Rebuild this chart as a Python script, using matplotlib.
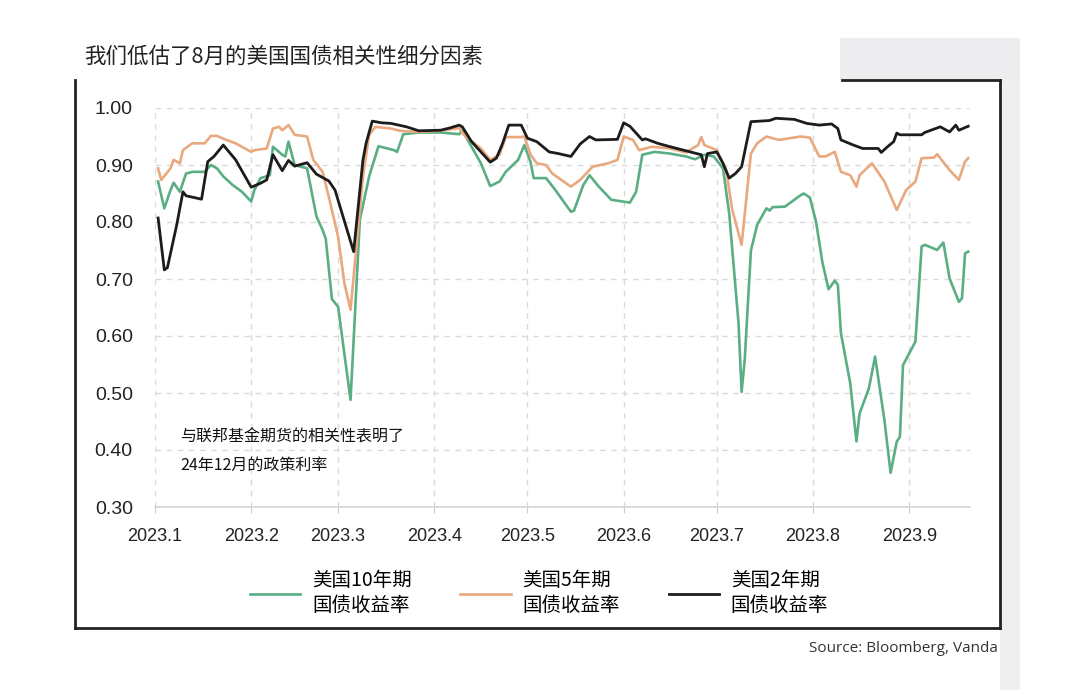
import pandas as pd
import matplotlib
matplotlib.use("Agg")
import matplotlib.pyplot as plt
from matplotlib.patches import Rectangle
from matplotlib.lines import Line2D

plt.rcParams['font.family'] = ['Noto Sans CJK SC', 'DejaVu Sans']

# ---- data ----
dates_10y = ['2023-01-02', '2023-01-04', '2023-01-06', '2023-01-07', '2023-01-09', '2023-01-11', '2023-01-13',
             '2023-01-17', '2023-01-19', '2023-01-21', '2023-01-23', '2023-01-26', '2023-01-29',
             '2023-02-01', '2023-02-02', '2023-02-04', '2023-02-07', '2023-02-08', '2023-02-11', '2023-02-12',
             '2023-02-13', '2023-02-15', '2023-02-19', '2023-02-22', '2023-02-24', '2023-02-25', '2023-02-27',
             '2023-03-01', '2023-03-05', '2023-03-08', '2023-03-11', '2023-03-14', '2023-03-19', '2023-03-20',
             '2023-03-22', '2023-03-27',
             '2023-04-03', '2023-04-09', '2023-04-10', '2023-04-13', '2023-04-16', '2023-04-19', '2023-04-22',
             '2023-04-24', '2023-04-28', '2023-04-30',
             '2023-05-02', '2023-05-03', '2023-05-07', '2023-05-10', '2023-05-15', '2023-05-16', '2023-05-19',
             '2023-05-21', '2023-05-24', '2023-05-28',
             '2023-06-03', '2023-06-05', '2023-06-07', '2023-06-11', '2023-06-16', '2023-06-21', '2023-06-24',
             '2023-06-27', '2023-06-30',
             '2023-07-03', '2023-07-05', '2023-07-06', '2023-07-08', '2023-07-09', '2023-07-10', '2023-07-12',
             '2023-07-14', '2023-07-17', '2023-07-18', '2023-07-19', '2023-07-23', '2023-07-26', '2023-07-28',
             '2023-07-29', '2023-07-31',
             '2023-08-02', '2023-08-04', '2023-08-06', '2023-08-08', '2023-08-09', '2023-08-10', '2023-08-13',
             '2023-08-15', '2023-08-16', '2023-08-19', '2023-08-21', '2023-08-24', '2023-08-26', '2023-08-28',
             '2023-08-29', '2023-08-30',
             '2023-09-03', '2023-09-05', '2023-09-06', '2023-09-10', '2023-09-12', '2023-09-14', '2023-09-17',
             '2023-09-18', '2023-09-19', '2023-09-20']
corr_10y = [0.871, 0.824, 0.856, 0.869, 0.853, 0.885, 0.888, 0.888, 0.90, 0.894, 0.88, 0.865, 0.853,
            0.836, 0.856, 0.877, 0.882, 0.932, 0.918, 0.915, 0.941, 0.90, 0.894, 0.81, 0.786, 0.771, 0.665,
            0.651, 0.488, 0.804, 0.88, 0.933, 0.926, 0.923, 0.954, 0.957,
            0.957, 0.954, 0.961, 0.932, 0.903, 0.863, 0.871, 0.888, 0.909, 0.935,
            0.905, 0.877, 0.877, 0.856, 0.818, 0.82, 0.865, 0.882, 0.862, 0.839,
            0.834, 0.853, 0.918, 0.923, 0.92, 0.915, 0.91, 0.918, 0.915,
            0.894, 0.815, 0.751, 0.623, 0.502, 0.558, 0.75, 0.795, 0.824, 0.82, 0.826, 0.827, 0.839, 0.847,
            0.85, 0.843,
            0.80, 0.73, 0.682, 0.697, 0.69, 0.605, 0.517, 0.415, 0.464, 0.508, 0.564, 0.453, 0.36, 0.415,
            0.423, 0.549,
            0.59, 0.757, 0.76, 0.751, 0.764, 0.701, 0.66, 0.666, 0.745, 0.748]

dates_5y = ['2023-01-02', '2023-01-03', '2023-01-06', '2023-01-07', '2023-01-09', '2023-01-10', '2023-01-13',
            '2023-01-17', '2023-01-19', '2023-01-21', '2023-01-24', '2023-01-27',
            '2023-02-01', '2023-02-02', '2023-02-06', '2023-02-08', '2023-02-10', '2023-02-11', '2023-02-13',
            '2023-02-15', '2023-02-19', '2023-02-21', '2023-02-24', '2023-02-26',
            '2023-03-01', '2023-03-03', '2023-03-05', '2023-03-09', '2023-03-11', '2023-03-13', '2023-03-18',
            '2023-03-21', '2023-03-26',
            '2023-04-03', '2023-04-09', '2023-04-11', '2023-04-16', '2023-04-19', '2023-04-22', '2023-04-24',
            '2023-04-29', '2023-04-30',
            '2023-05-02', '2023-05-04', '2023-05-07', '2023-05-09', '2023-05-15', '2023-05-18', '2023-05-22',
            '2023-05-27', '2023-05-30',
            '2023-06-01', '2023-06-04', '2023-06-06', '2023-06-10', '2023-06-16', '2023-06-21', '2023-06-25',
            '2023-06-26', '2023-06-27',
            '2023-07-01', '2023-07-03', '2023-07-04', '2023-07-06', '2023-07-09', '2023-07-12', '2023-07-14',
            '2023-07-17', '2023-07-21', '2023-07-28', '2023-07-31',
            '2023-08-03', '2023-08-05', '2023-08-08', '2023-08-10', '2023-08-13', '2023-08-15', '2023-08-16',
            '2023-08-20', '2023-08-24', '2023-08-28', '2023-08-31',
            '2023-09-03', '2023-09-05', '2023-09-09', '2023-09-10', '2023-09-14', '2023-09-17', '2023-09-19',
            '2023-09-20']
corr_5y = [0.894, 0.874, 0.894, 0.909, 0.903, 0.926, 0.938, 0.938, 0.951, 0.951, 0.944, 0.938,
           0.923, 0.926, 0.929, 0.964, 0.967, 0.961, 0.97, 0.953, 0.95, 0.909, 0.888, 0.844,
           0.774, 0.693, 0.646, 0.88, 0.953, 0.967, 0.964, 0.96, 0.958,
           0.96, 0.965, 0.95, 0.929, 0.909, 0.918, 0.949, 0.949, 0.95,
           0.918, 0.903, 0.90, 0.885, 0.862, 0.874, 0.897, 0.903, 0.909,
           0.95, 0.944, 0.926, 0.932, 0.929, 0.922, 0.935, 0.949, 0.935,
           0.926, 0.903, 0.891, 0.821, 0.76, 0.92, 0.938, 0.95, 0.944, 0.95, 0.948,
           0.915, 0.915, 0.923, 0.888, 0.882, 0.862, 0.882, 0.903, 0.871, 0.821, 0.856,
           0.871, 0.912, 0.913, 0.919, 0.891, 0.874, 0.906, 0.912]

dates_2y = ['2023-01-02', '2023-01-04', '2023-01-05', '2023-01-08', '2023-01-10', '2023-01-11', '2023-01-16',
            '2023-01-18', '2023-01-20', '2023-01-23', '2023-01-27',
            '2023-02-01', '2023-02-04', '2023-02-06', '2023-02-08', '2023-02-11', '2023-02-13', '2023-02-15',
            '2023-02-19', '2023-02-22', '2023-02-26', '2023-02-28',
            '2023-03-06', '2023-03-09', '2023-03-10', '2023-03-12', '2023-03-15', '2023-03-18', '2023-03-23',
            '2023-03-27',
            '2023-04-03', '2023-04-06', '2023-04-09', '2023-04-10', '2023-04-13', '2023-04-16', '2023-04-19',
            '2023-04-21', '2023-04-23', '2023-04-25', '2023-04-29',
            '2023-05-01', '2023-05-04', '2023-05-08', '2023-05-11', '2023-05-15', '2023-05-18', '2023-05-21',
            '2023-05-23', '2023-05-30',
            '2023-06-01', '2023-06-03', '2023-06-05', '2023-06-07', '2023-06-08', '2023-06-12', '2023-06-16',
            '2023-06-21', '2023-06-26', '2023-06-27', '2023-06-28',
            '2023-07-01', '2023-07-03', '2023-07-05', '2023-07-07', '2023-07-09', '2023-07-12', '2023-07-18',
            '2023-07-20', '2023-07-26', '2023-07-30',
            '2023-08-03', '2023-08-07', '2023-08-09', '2023-08-10', '2023-08-14', '2023-08-17', '2023-08-22',
            '2023-08-23', '2023-08-25', '2023-08-27', '2023-08-28', '2023-08-29',
            '2023-09-05', '2023-09-06', '2023-09-11', '2023-09-14', '2023-09-16', '2023-09-17', '2023-09-20']
corr_2y = [0.807, 0.716, 0.72, 0.795, 0.853, 0.846, 0.84, 0.906, 0.915, 0.935, 0.909,
           0.861, 0.868, 0.874, 0.918, 0.89, 0.908, 0.898, 0.904, 0.884, 0.872, 0.856,
           0.748, 0.909, 0.938, 0.977, 0.974, 0.973, 0.967, 0.96,
           0.961, 0.965, 0.97, 0.967, 0.941, 0.923, 0.905, 0.912, 0.938, 0.97, 0.97,
           0.947, 0.941, 0.923, 0.92, 0.915, 0.937, 0.95, 0.944, 0.945,
           0.974, 0.968, 0.956, 0.944, 0.946, 0.938, 0.932, 0.925, 0.918, 0.897, 0.92,
           0.923, 0.903, 0.877, 0.885, 0.897, 0.976, 0.978, 0.982, 0.98, 0.973,
           0.97, 0.972, 0.964, 0.944, 0.935, 0.929, 0.929, 0.922, 0.932, 0.941, 0.956, 0.953,
           0.953, 0.957, 0.967, 0.958, 0.97, 0.961, 0.968]

month_ticks = ['2023-01-01', '2023-02-01', '2023-03-01', '2023-04-01', '2023-05-01',
               '2023-06-01', '2023-07-01', '2023-08-01', '2023-09-01']
month_labels = ['2023.1', '2023.2', '2023.3', '2023.4', '2023.5', '2023.6', '2023.7', '2023.8', '2023.9']
y_ticks = [0.30, 0.40, 0.50, 0.60, 0.70, 0.80, 0.90, 1.00]

series_names = ['美国10年期\n国债收益率', '美国5年期\n国债收益率', '美国2年期\n国债收益率']
series_colors = ['#5aae84', '#e9a87e', '#1c1c1c']

W, H = 1080, 690
fig = plt.figure(figsize=(W / 100, H / 100), dpi=100)
fig.patch.set_facecolor('white')


def fx(px):
    return px / W


def fy(py):
    return 1 - py / H


# grey slide decoration on the right
fig.add_artist(Rectangle((fx(840), fy(80)), fx(180), fy(38) - fy(80), transform=fig.transFigure,
                         facecolor='#ededf0', edgecolor='none', zorder=0))
fig.add_artist(Rectangle((fx(1000), fy(690)), fx(20), fy(80) - fy(690), transform=fig.transFigure,
                         facecolor='#efeff1', edgecolor='none', zorder=0))

# box frame
frame_kw = dict(transform=fig.transFigure, color='#222222', lw=2, zorder=5)
fig.add_artist(Line2D([fx(75), fx(75)], [fy(80), fy(628)], **frame_kw))
fig.add_artist(Line2D([fx(75), fx(1000)], [fy(628), fy(628)], **frame_kw))
fig.add_artist(Line2D([fx(1000), fx(1000)], [fy(628), fy(80)], **frame_kw))
fig.add_artist(Line2D([fx(842), fx(1000)], [fy(80), fy(80)], **frame_kw))

ax = fig.add_axes([fx(155), fy(507), fx(970) - fx(155), fy(108) - fy(507)])
ax.set_facecolor('none')

x10 = pd.to_datetime(dates_10y)
x5 = pd.to_datetime(dates_5y)
x2 = pd.to_datetime(dates_2y)
ax.plot(x10, corr_10y, color=series_colors[0], lw=1.9, label=series_names[0], zorder=3)
ax.plot(x5, corr_5y, color=series_colors[1], lw=1.9, label=series_names[1], zorder=3)
ax.plot(x2, corr_2y, color=series_colors[2], lw=2.0, label=series_names[2], zorder=4)

ax.set_xlim(pd.Timestamp('2023-01-01'), pd.Timestamp('2023-09-20 14:00'))
ax.set_ylim(0.30, 1.00)
ax.set_xticks(pd.to_datetime(month_ticks))
ax.set_xticklabels(month_labels, fontsize=13, family=['Liberation Sans', 'DejaVu Sans'], color='#222222')
ax.set_yticks(y_ticks)
ax.set_yticklabels([f'{v:.2f}' for v in y_ticks], fontsize=14, family=['Liberation Sans', 'DejaVu Sans'],
                   color='#222222')
ax.tick_params(axis='x', length=4, color='#cccccc', pad=11)
ax.tick_params(axis='y', length=0, pad=16)

for s in ['top', 'right', 'left']:
    ax.spines[s].set_visible(False)
ax.spines['bottom'].set_color('#d4d4d4')
ax.spines['bottom'].set_linewidth(1.2)

ax.grid(True, color='#dadada', lw=1, linestyle=(0, (4, 4)))
ax.set_axisbelow(True)

# title, note, source
fig.text(fx(84), fy(57), '我们低估了8月的美国国债相关性细分因素', fontsize=15.5, color='#222222',
         va='center', ha='left')
fig.text(fx(180), fy(437), '与联邦基金期货的相关性表明了', fontsize=11.5, color='#111111',
         va='center', ha='left')
fig.text(fx(180), fy(465), '24年12月的政策利率', fontsize=11.5, color='#111111',
         va='center', ha='left')
fig.text(fx(998), fy(648), 'Source: Bloomberg, Vanda', fontsize=11, color='#333333',
         family=['Open Sans', 'DejaVu Sans'], va='center', ha='right')

handles, labels = ax.get_legend_handles_labels()
fig.legend(handles, labels, loc='center', bbox_to_anchor=(fx(539), fy(593)), ncol=3, frameon=False,
           fontsize=14, handlelength=2.6, handletextpad=0.6, columnspacing=2.5, borderpad=0)

fig.savefig('out.png', dpi=100)
